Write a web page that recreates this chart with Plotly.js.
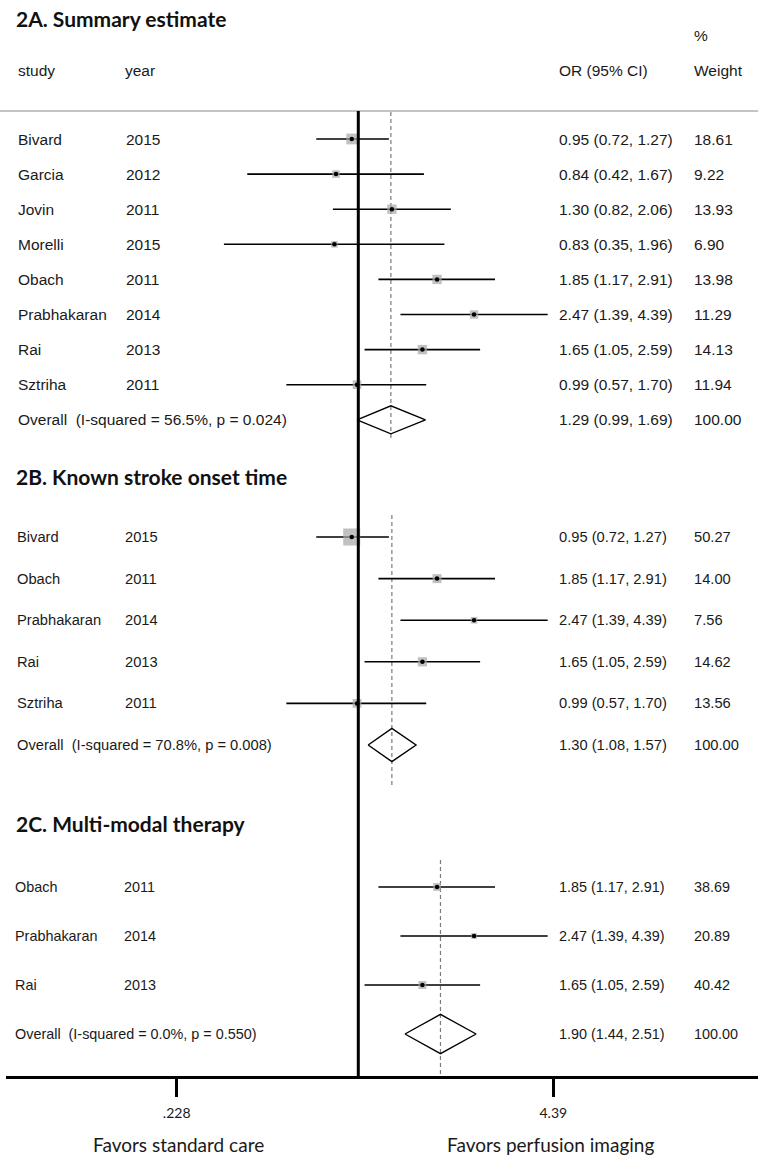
<!DOCTYPE html>
<html>
<head>
<meta charset="utf-8">
<script src="https://cdn.plot.ly/plotly-3.0.1.min.js"></script>
<style>html,body{margin:0;padding:0;background:#fff;}#chart{width:758px;height:1158px;}</style>
</head>
<body>
<div id="chart"></div>
<script>
// ---------------- DATA ----------------
const studyA = ['Bivard','Garcia','Jovin','Morelli','Obach','Prabhakaran','Rai','Sztriha'];
const yearA  = ['2015','2012','2011','2015','2011','2014','2013','2011'];
const orA    = [0.95, 0.84, 1.30, 0.83, 1.85, 2.47, 1.65, 0.99];
const loA    = [0.72, 0.42, 0.82, 0.35, 1.17, 1.39, 1.05, 0.57];
const hiA    = [1.27, 1.67, 2.06, 1.96, 2.91, 4.39, 2.59, 1.70];
const wA     = [18.61, 9.22, 13.93, 6.90, 13.98, 11.29, 14.13, 11.94];
const overallA = [1.29, 0.99, 1.69];
const overallLabelA = 'Overall  (I-squared = 56.5%, p = 0.024)';

const studyB = ['Bivard','Obach','Prabhakaran','Rai','Sztriha'];
const yearB  = ['2015','2011','2014','2013','2011'];
const orB    = [0.95, 1.85, 2.47, 1.65, 0.99];
const loB    = [0.72, 1.17, 1.39, 1.05, 0.57];
const hiB    = [1.27, 2.91, 4.39, 2.59, 1.70];
const wB     = [50.27, 14.00, 7.56, 14.62, 13.56];
const overallB = [1.30, 1.08, 1.57];
const overallLabelB = 'Overall  (I-squared = 70.8%, p = 0.008)';

const studyC = ['Obach','Prabhakaran','Rai'];
const yearC  = ['2011','2014','2013'];
const orC    = [1.85, 2.47, 1.65];
const loC    = [1.17, 1.39, 1.05];
const hiC    = [2.91, 4.39, 2.59];
const wC     = [38.69, 20.89, 40.42];
const overallC = [1.90, 1.44, 2.51];
const overallLabelC = 'Overall  (I-squared = 0.0%, p = 0.550)';

const panelTitles = ['2A. Summary estimate', '2B. Known stroke onset time', '2C. Multi-modal therapy'];
const tickVals = [0.228, 4.39];
const tickLabels = ['.228', '4.39'];
const favorsLeft = 'Favors standard care';
const favorsRight = 'Favors perfusion imaging';

// ---------------- LAYOUT HELPERS ----------------
const W = 758, H = 1158, MB = 82, PH = H - MB;
const P = py => (PH - py) / PH;       // pixel from top -> paper y
const X = px => px / W;               // pixel from left -> paper x
const LOG10 = Math.log(10);
// data axis: value 1 at px 358.3, 128 px per ln unit, plot spans 0..758
const NULLPX = 358.3, SCALE = 128;
const xRange = [(0 - NULLPX) / SCALE / LOG10, (W - NULLPX) / SCALE / LOG10];
// tick axis: .228 at px 176.7, 4.39 at px 553.3
const t0 = 176.7, t1 = 553.3;
const tScale = (t1 - t0) / (Math.log(tickVals[1]) - Math.log(tickVals[0]));
const tCenter = t0 - Math.log(tickVals[0]) * tScale;
const AX2LEFT = 6;
const x2Range = [(AX2LEFT - tCenter) / tScale / LOG10, (W - tCenter) / tScale / LOG10];

const TXT = 'Liberation Sans, Arial, sans-serif';
const CAL = 'Lato, sans-serif';
const TXTCOL = '#1a1a1a';

const panels = [
  {ax:'y',  axName:'yaxis',  study:studyA, year:yearA, or:orA, lo:loA, hi:hiA, w:wA, ov:overallA, ovLabel:overallLabelA,
   title:panelTitles[0], titlePx:19, row1:139, step:35.1, top:111, bottom:440, font:15.5, k:2.5, dash:[112,440], sx:16, yx:124},
  {ax:'y2', axName:'yaxis2', study:studyB, year:yearB, or:orB, lo:loB, hi:hiB, w:wB, ov:overallB, ovLabel:overallLabelB,
   title:panelTitles[1], titlePx:477, row1:537, step:41.6, top:500, bottom:790, font:14.7, k:2.4, dash:[515,785], sx:14.7, yx:122.7},
  {ax:'y3', axName:'yaxis3', study:studyC, year:yearC, or:orC, lo:loC, hi:hiC, w:wC, ov:overallC, ovLabel:overallLabelC,
   title:panelTitles[2], titlePx:823, row1:887, step:49, top:850, bottom:PH, font:14.4, k:1.25, dash:[860,PH], sx:13.3, yx:121.7}
];
const ORX = 556.7, WX = 692;

const traces = [];
const annotations = [];
const shapes = [];
const layout = {
  width: W, height: H,
  margin: {l:0, r:0, t:0, b:MB, pad:0},
  paper_bgcolor: '#fff', plot_bgcolor: 'rgba(0,0,0,0)',
  showlegend: false,
  xaxis: {type:'log', range:xRange, domain:[0,1], visible:false, fixedrange:true, anchor:'y'},
  xaxis2: {type:'log', range:x2Range, domain:[AX2LEFT/W, 1], anchor:'y4',
           showline:true, linewidth:3, linecolor:'#000', mirror:false,
           ticks:'outside', ticklen:18, tickwidth:3, tickcolor:'#000',
           tickvals:tickVals, ticktext:tickLabels, ticklabelstandoff:4,
           tickfont:{family:CAL, size:14, color:TXTCOL},
           showgrid:false, zeroline:false, fixedrange:true},
  yaxis4: {domain:[0, 0.004], range:[0,1], anchor:'x2', visible:false, fixedrange:true},
  annotations: annotations,
  shapes: shapes
};

function txt(x, y, yref, text, size, opts) {
  annotations.push(Object.assign({
    x: x, xref:'paper', y: y, yref: yref, text: text, showarrow:false,
    xanchor:'left', yanchor:'middle',
    font:{family:TXT, size:size, color:TXTCOL}
  }, opts || {}));
}
const fmt = v => v.toFixed(2);
const ciText = (o, l, h) => fmt(o) + ' (' + fmt(l) + ', ' + fmt(h) + ')';

// headers
txt(X(16), P(70), 'paper', 'study', 15.5);
txt(X(123), P(70), 'paper', 'year', 15.5);
txt(X(ORX), P(70), 'paper', 'OR (95% CI)', 15.5);
txt(X(WX), P(70), 'paper', 'Weight', 15.5);
txt(X(WX), P(35), 'paper', '%', 15.5);

panels.forEach(pn => {
  const rowOf = px => 1 + (px - pn.row1) / pn.step;
  const n = pn.study.length;
  layout[pn.axName] = {
    domain:[P(pn.bottom), P(pn.top)], range:[rowOf(pn.bottom), rowOf(pn.top)],
    anchor:'x', visible:false, fixedrange:true
  };
  const rows = pn.study.map((_, i) => i + 1);
  // squares + CI lines
  traces.push({
    type:'scatter', mode:'markers', x:pn.or, y:rows, xaxis:'x', yaxis:pn.ax,
    marker:{symbol:'square', color:'#a6a6a6', size:pn.w.map(w => pn.k * Math.sqrt(w)), line:{width:0}},
    error_x:{type:'data', symmetric:false,
             array:pn.or.map((o, i) => pn.hi[i] - o),
             arrayminus:pn.or.map((o, i) => o - pn.lo[i]),
             width:0, thickness:1.6, color:'#000'},
    hoverinfo:'skip', cliponaxis:false
  });
  // centre dots
  traces.push({
    type:'scatter', mode:'markers', x:pn.or, y:rows, xaxis:'x', yaxis:pn.ax,
    marker:{symbol:'circle', color:'#000', size:4.5}, hoverinfo:'skip', cliponaxis:false
  });
  // overall diamond
  const R = n + 1, hh = 0.4;
  traces.push({
    type:'scatter', mode:'lines', xaxis:'x', yaxis:pn.ax,
    x:[pn.ov[1], pn.ov[0], pn.ov[2], pn.ov[0], pn.ov[1]],
    y:[R, R - hh, R, R + hh, R],
    line:{color:'#000', width:1.4}, hoverinfo:'skip', cliponaxis:false
  });
  // dashed overall line
  shapes.push({type:'line', xref:'x', yref:pn.ax, x0:pn.ov[0], x1:pn.ov[0],
               y0:rowOf(pn.dash[0]), y1:rowOf(pn.dash[1]),
               line:{color:'#7a7a7a', width:1.2, dash:'4px,3px'}, layer:'below'});
  // title
  txt(X(14), P(pn.titlePx), 'paper', '<b>' + pn.title + '</b>', 21, {font:{family:CAL, size:21, color:'#111'}});
  // row texts
  pn.study.forEach((s, i) => {
    const r = i + 1;
    txt(X(pn.sx), r, pn.ax, s, pn.font);
    txt(X(pn.yx), r, pn.ax, pn.year[i], pn.font);
    txt(X(ORX), r, pn.ax, ciText(pn.or[i], pn.lo[i], pn.hi[i]), pn.font);
    txt(X(WX), r, pn.ax, fmt(pn.w[i]), pn.font);
  });
  txt(X(pn.sx), R, pn.ax, pn.ovLabel.replace('  ', ' \u00a0'), pn.font);
  txt(X(ORX), R, pn.ax, ciText(pn.ov[0], pn.ov[1], pn.ov[2]), pn.font);
  txt(X(WX), R, pn.ax, fmt(100), pn.font);
});

// dummy trace for tick axis subplot
traces.push({type:'scatter', mode:'markers', x:[1], y:[-5], xaxis:'x2', yaxis:'y4',
             marker:{size:1, color:'rgba(0,0,0,0)'}, hoverinfo:'skip'});

// null line & header rule
shapes.push({type:'line', xref:'x', yref:'paper', x0:1, x1:1, y0:0, y1:P(111),
             line:{color:'#000', width:3}, layer:'above'});
shapes.push({type:'line', xref:'paper', yref:'paper', x0:0, x1:1, y0:P(111), y1:P(111),
             line:{color:'#c4c4c4', width:2}, layer:'below'});

// favors labels
txt(X(178), P(1144), 'paper', favorsLeft, 19, {xanchor:'center', font:{family:CAL, size:19, color:TXTCOL}});
txt(X(550), P(1144), 'paper', favorsRight, 19, {xanchor:'center', font:{family:CAL, size:19, color:TXTCOL}});

Plotly.newPlot('chart', traces, layout, {staticPlot:true, displayModeBar:false});
</script>
</body>
</html>
